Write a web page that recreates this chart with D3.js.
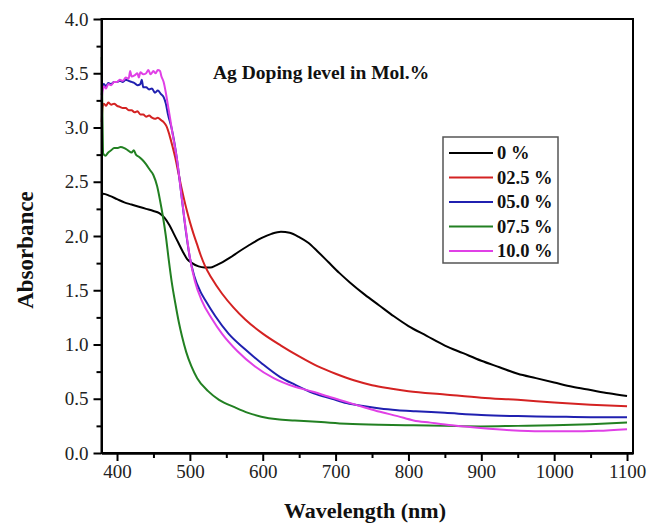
<!DOCTYPE html>
<html>
<head>
<meta charset="utf-8">
<script src="https://d3js.org/d3.v7.min.js"></script>
<style>
  body { margin: 0; background: #fff; }
  text { font-family: "Liberation Serif", "Times New Roman", serif; }
</style>
</head>
<body>
<div id="my_dataviz"></div>
<script>

// wavelength (nm), absorbance pairs
var doping0 = [[379,2.37],[381,2.39],[390,2.37],[400,2.34],[410,2.31],[420,2.29],[430,2.27],[440,2.25],[450,2.23],[458,2.21],[465,2.17],[472,2.10],[478,2.02],[484,1.94],[490,1.86],[496,1.79],[503,1.75],[512,1.72],[520,1.71],[528,1.71],[536,1.73],[545,1.76],[555,1.80],[566,1.85],[580,1.91],[598,1.98],[612,2.02],[625,2.04],[637,2.03],[650,1.99],[662,1.94],[675,1.86],[690,1.76],[705,1.66],[720,1.57],[740,1.46],[760,1.36],[780,1.26],[800,1.17],[825,1.08],[850,0.99],[875,0.92],[900,0.85],[925,0.79],[950,0.73],[975,0.69],[1000,0.65],[1025,0.61],[1050,0.58],[1075,0.55],[1100,0.525]];

var doping25 = [[379,3.05],[380,3.18],[382,3.22],[385,3.20],[388,3.23],[392,3.21],[396,3.22],[400,3.20],[404,3.19],[408,3.18],[412,3.18],[416,3.16],[420,3.16],[424,3.14],[428,3.15],[432,3.12],[436,3.12],[440,3.10],[444,3.11],[448,3.09],[452,3.08],[456,3.09],[460,3.07],[464,3.05],[468,3.01],[472,2.93],[476,2.83],[480,2.72],[484,2.59],[488,2.46],[492,2.34],[496,2.23],[500,2.13],[505,2.02],[510,1.92],[515,1.82],[521,1.72],[530,1.61],[544,1.47],[560,1.34],[576,1.23],[600,1.10],[625,0.99],[650,0.89],[675,0.80],[700,0.73],[725,0.67],[750,0.625],[775,0.595],[800,0.57],[850,0.54],[900,0.51],[950,0.49],[1000,0.465],[1050,0.445],[1100,0.43]];

var doping50 = [[379,3.30],[380,3.36],[382,3.40],[385,3.38],[388,3.41],[392,3.40],[396,3.42],[400,3.42],[404,3.43],[408,3.42],[412,3.44],[416,3.43],[420,3.42],[424,3.41],[428,3.39],[432,3.40],[434,3.44],[436,3.37],[440,3.37],[444,3.35],[448,3.36],[452,3.32],[456,3.34],[460,3.31],[464,3.28],[467,3.22],[470,3.12],[475,2.99],[482,2.72],[488,2.40],[493,2.12],[500,1.80],[506,1.63],[515,1.48],[521,1.41],[535,1.26],[553,1.10],[575,0.96],[598,0.83],[624,0.70],[644,0.63],[670,0.55],[695,0.50],[715,0.46],[740,0.43],[761,0.41],[785,0.395],[810,0.385],[850,0.37],[900,0.35],[950,0.34],[1000,0.335],[1050,0.33],[1100,0.33]];

var doping75 = [[379,3.65],[380,3.10],[381,2.76],[384,2.74],[388,2.77],[392,2.79],[396,2.81],[400,2.81],[405,2.82],[410,2.81],[415,2.79],[420,2.77],[423,2.79],[426,2.75],[430,2.73],[435,2.70],[440,2.66],[445,2.61],[450,2.56],[455,2.46],[459,2.33],[463,2.18],[467,2.00],[471,1.78],[475,1.58],[480,1.38],[485,1.20],[489,1.08],[495,0.93],[502,0.80],[510,0.69],[525,0.57],[540,0.49],[562,0.42],[580,0.37],[598,0.335],[620,0.31],[644,0.30],[680,0.285],[715,0.27],[760,0.26],[807,0.255],[850,0.25],[899,0.245],[950,0.25],[1000,0.255],[1050,0.265],[1100,0.28]];

var doping100 = [[379,3.25],[380,3.33],[382,3.38],[385,3.36],[388,3.40],[392,3.39],[396,3.42],[400,3.42],[404,3.44],[408,3.43],[412,3.46],[416,3.45],[418,3.52],[420,3.47],[424,3.48],[428,3.50],[430,3.46],[432,3.51],[436,3.49],[440,3.50],[443,3.53],[446,3.49],[450,3.52],[453,3.50],[456,3.53],[459,3.52],[461,3.47],[464,3.42],[467,3.32],[470,3.20],[473,3.08],[476,2.95],[479,2.84],[482,2.72],[488,2.40],[494,2.08],[500,1.80],[507,1.58],[516,1.41],[530,1.24],[544,1.10],[565,0.94],[589,0.80],[615,0.69],[644,0.61],[669,0.565],[690,0.52],[715,0.47],[740,0.42],[761,0.38],[785,0.34],[807,0.30],[830,0.28],[860,0.255],[899,0.23],[940,0.21],[981,0.20],[1020,0.20],[1060,0.205],[1100,0.22]];

var seriesNames = ["0 %", "02.5 %", "05.0 %", "07.5 %", "10.0 %"];
var seriesColors = ["#000000", "#d42222", "#2020b0", "#228022", "#e040e6"];
var seriesData = [doping0, doping25, doping50, doping75, doping100];

var xMajorTicks = [400, 500, 600, 700, 800, 900, 1000, 1100];
var xMinorTicks = [450, 550, 650, 750, 850, 950, 1050];
var yMajorTicks = [0, 0.5, 1, 1.5, 2, 2.5, 3, 3.5, 4];
var yMinorTicks = [0.25, 0.75, 1.25, 1.75, 2.25, 2.75, 3.25, 3.75];

// set the dimensions and margins of the graph
var margin = {top: 19, right: 14, bottom: 72, left: 101.5},
    width = 633 - margin.left,
    height = 453 - margin.top;

var svg = d3.select("#my_dataviz")
  .append("svg")
  .attr("width", 647)
  .attr("height", 525)
  .append("g")
  .attr("transform", "translate(" + margin.left + "," + margin.top + ")");

var x = d3.scaleLinear().domain([378.7, 1108.2]).range([0, width]);
var y = d3.scaleLinear().domain([0, 4]).range([height, 0]);

// curves first, frame drawn on top
var line = d3.line()
  .curve(d3.curveMonotoneX)
  .x(function(d) { return x(d[0]); })
  .y(function(d) { return y(d[1]); });

svg.selectAll(".curve")
  .data(seriesData)
  .enter()
  .append("path")
  .attr("class", "curve")
  .attr("d", line)
  .attr("fill", "none")
  .attr("stroke", function(d, i) { return seriesColors[i]; })
  .attr("stroke-width", 2)
  .attr("stroke-linejoin", "round");

// X axis
svg.append("g")
  .attr("transform", "translate(0," + height + ")")
  .call(d3.axisBottom(x).tickValues(xMajorTicks).tickSize(8).tickPadding(4).tickSizeOuter(0)
    .tickFormat(d3.format("d")));
svg.append("g")
  .attr("transform", "translate(0," + height + ")")
  .call(d3.axisBottom(x).tickValues(xMinorTicks).tickSize(5).tickFormat("").tickSizeOuter(0));

// Y axis
svg.append("g")
  .call(d3.axisLeft(y).tickValues(yMajorTicks).tickSize(8).tickPadding(5).tickSizeOuter(0)
    .tickFormat(d3.format(".1f")));
svg.append("g")
  .call(d3.axisLeft(y).tickValues(yMinorTicks).tickSize(5).tickFormat("").tickSizeOuter(0));

svg.selectAll(".tick line").attr("stroke", "#000").attr("stroke-width", 2);
svg.selectAll(".domain").attr("stroke", "#000").attr("stroke-width", 2);
svg.selectAll(".tick text")
  .style("font-family", "Liberation Serif")
  .style("font-size", "19px")
  .attr("fill", "#222");

// frame
svg.append("rect")
  .attr("x", 0).attr("y", 0)
  .attr("width", width).attr("height", height)
  .attr("fill", "none")
  .attr("stroke", "#000")
  .attr("stroke-width", 2);

// title inside plot
svg.append("text")
  .attr("x", 213 - margin.left)
  .attr("y", 79 - margin.top)
  .style("font-size", "19.5px")
  .style("font-weight", "bold")
  .attr("fill", "#111")
  .text("Ag Doping level in Mol.%");

// legend
var legend = svg.append("g")
  .attr("transform", "translate(" + (443 - margin.left) + "," + (137 - margin.top) + ")");
legend.append("rect")
  .attr("width", 115).attr("height", 126)
  .attr("fill", "#fff")
  .attr("stroke", "#555")
  .attr("stroke-width", 1.5);
var rows = legend.selectAll(".row")
  .data(seriesNames)
  .enter()
  .append("g")
  .attr("transform", function(d, i) { return "translate(0," + (16 + i * 24.5) + ")"; });
rows.append("line")
  .attr("x1", 6).attr("x2", 50)
  .attr("stroke", function(d, i) { return seriesColors[i]; })
  .attr("stroke-width", 2);
rows.append("text")
  .attr("x", 54)
  .attr("dy", "0.35em")
  .style("font-size", "18.5px")
  .style("font-weight", "bold")
  .attr("fill", "#111")
  .text(function(d) { return d; });

// axis labels
svg.append("text")
  .attr("x", 365 - margin.left)
  .attr("y", 518 - margin.top)
  .attr("text-anchor", "middle")
  .style("font-size", "22px")
  .style("font-weight", "bold")
  .attr("fill", "#111")
  .text("Wavelength (nm)");

svg.append("text")
  .attr("transform", "translate(" + (33 - margin.left) + "," + (250 - margin.top) + ") rotate(-90)")
  .attr("text-anchor", "middle")
  .style("font-size", "23px")
  .style("font-weight", "bold")
  .attr("fill", "#111")
  .text("Absorbance");

</script>
</body>
</html>
